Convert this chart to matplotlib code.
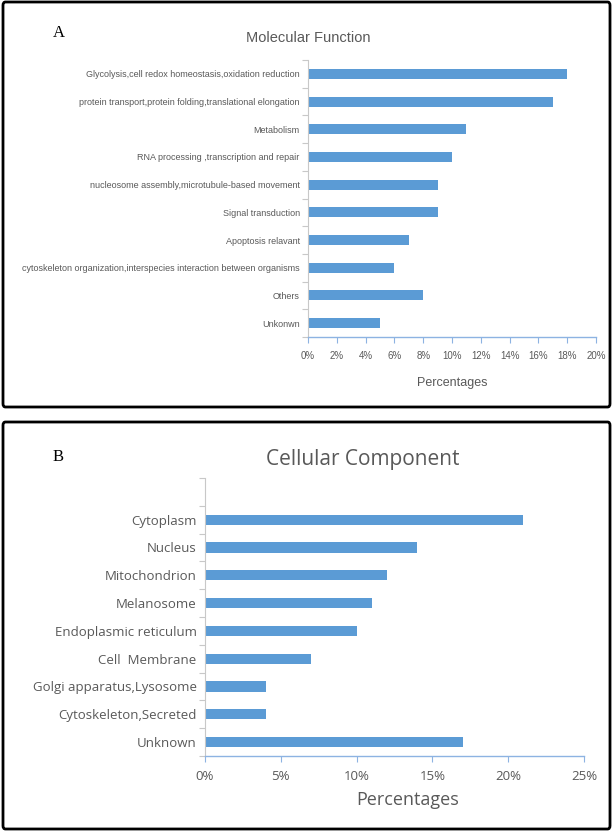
import matplotlib.pyplot as plt
from matplotlib.patches import FancyBboxPatch
from matplotlib.ticker import FuncFormatter
import numpy as np

# panel A data
mf_labels = ['Glycolysis,cell redox homeostasis,oxidation reduction',
             'protein transport,protein folding,translational elongation',
             'Metabolism',
             'RNA processing ,transcription and repair',
             'nucleosome assembly,microtubule-based movement',
             'Signal transduction',
             'Apoptosis relavant',
             'cytoskeleton organization,interspecies interaction between organisms',
             'Others',
             'Unkonwn']
mf_values = [18, 17, 11, 10, 9, 9, 7, 6, 8, 5]
mf_ticks = [0, 2, 4, 6, 8, 10, 12, 14, 16, 18, 20]

# panel B data
cc_labels = ['Cytoplasm', 'Nucleus', 'Mitochondrion', 'Melanosome',
             'Endoplasmic reticulum', 'Cell  Membrane', 'Golgi apparatus,Lysosome',
             'Cytoskeleton,Secreted', 'Unknown']
cc_values = [21, 14, 12, 11, 10, 7, 4, 4, 17]
cc_ticks = [0, 5, 10, 15, 20, 25]

W, H = 614, 831
BAR = '#5B9BD5'
XAX = '#8DB3E2'
YAX = '#C8C8C8'
TXT = '#595959'
narrow = ['Liberation Sans Narrow', 'Liberation Sans', 'DejaVu Sans']
wide = ['Open Sans', 'DejaVu Sans']

fig = plt.figure(figsize=(W / 100, H / 100), dpi=100)


def box(x0, y0, x1, y1):
    # pixel coords (top-left origin) -> figure fraction
    return [x0 / W, 1 - y1 / H, (x1 - x0) / W, (y1 - y0) / H]


def frame(y0, y1):
    p = FancyBboxPatch((3 / W, 1 - y1 / H), 607 / W, (y1 - y0) / H,
                       boxstyle='round,pad=0,rounding_size=0.004',
                       transform=fig.transFigure, fill=False,
                       edgecolor='black', linewidth=2)
    fig.patches.append(p)


def panel(rect, labels, values, ticks, nslots, font, lsize, tsize):
    ax = fig.add_axes(rect)
    n = len(labels)
    pos = np.arange(n)
    ax.barh(pos, values, height=0.36, color=BAR)
    ax.set_ylim(n - 0.5, n - 0.5 - nslots)
    ax.set_xlim(ticks[0], ticks[-1])
    ax.set_xticks(ticks)
    ax.xaxis.set_major_formatter(FuncFormatter(lambda v, p: '%d%%' % v))
    ax.set_yticks(np.arange(n - nslots, n + 1) - 0.5)
    ax.set_yticklabels([])
    ax.set_yticks(pos, minor=True)
    ax.set_yticklabels(labels, minor=True, family=font, fontsize=lsize, color=TXT)
    ax.tick_params(axis='y', which='minor', length=0, pad=6)
    ax.tick_params(axis='y', which='major', length=4, color=YAX, width=0.8)
    ax.tick_params(axis='x', length=4, color=XAX, width=0.8, labelcolor=TXT,
                   labelsize=tsize, pad=6)
    for lab in ax.get_xticklabels():
        lab.set_family(font)
    for s in ['top', 'right']:
        ax.spines[s].set_visible(False)
    ax.spines['left'].set_color(YAX)
    ax.spines['left'].set_linewidth(0.8)
    ax.spines['bottom'].set_color(XAX)
    ax.spines['bottom'].set_linewidth(1.0)
    return ax


# panel A
frame(2, 407)
panel(box(308, 60, 596, 337), mf_labels, mf_values, mf_ticks, 10, narrow, 6.5, 7)
fig.text(308 / W, 1 - 38 / H, 'Molecular Function', family=narrow, fontsize=10.5,
         color=TXT, ha='center', va='center')
fig.text(452 / W, 1 - 383 / H, 'Percentages', family=narrow, fontsize=9,
         color=TXT, ha='center', va='center')
fig.text(53 / W, 1 - 33 / H, 'A', family='Liberation Serif', fontsize=12,
         ha='left', va='center')

# panel B
frame(422, 829)
panel(box(205, 478, 584, 756), cc_labels, cc_values, cc_ticks, 10, wide, 9.5, 9.5)
fig.text(363 / W, 1 - 460 / H, 'Cellular Component', family=wide, fontsize=15,
         color=TXT, ha='center', va='center')
fig.text(408 / W, 1 - 800 / H, 'Percentages', family=wide, fontsize=13,
         color=TXT, ha='center', va='center')
fig.text(53 / W, 1 - 457 / H, 'B', family='Liberation Serif', fontsize=12,
         ha='left', va='center')

fig.savefig('out.png', dpi=100)
